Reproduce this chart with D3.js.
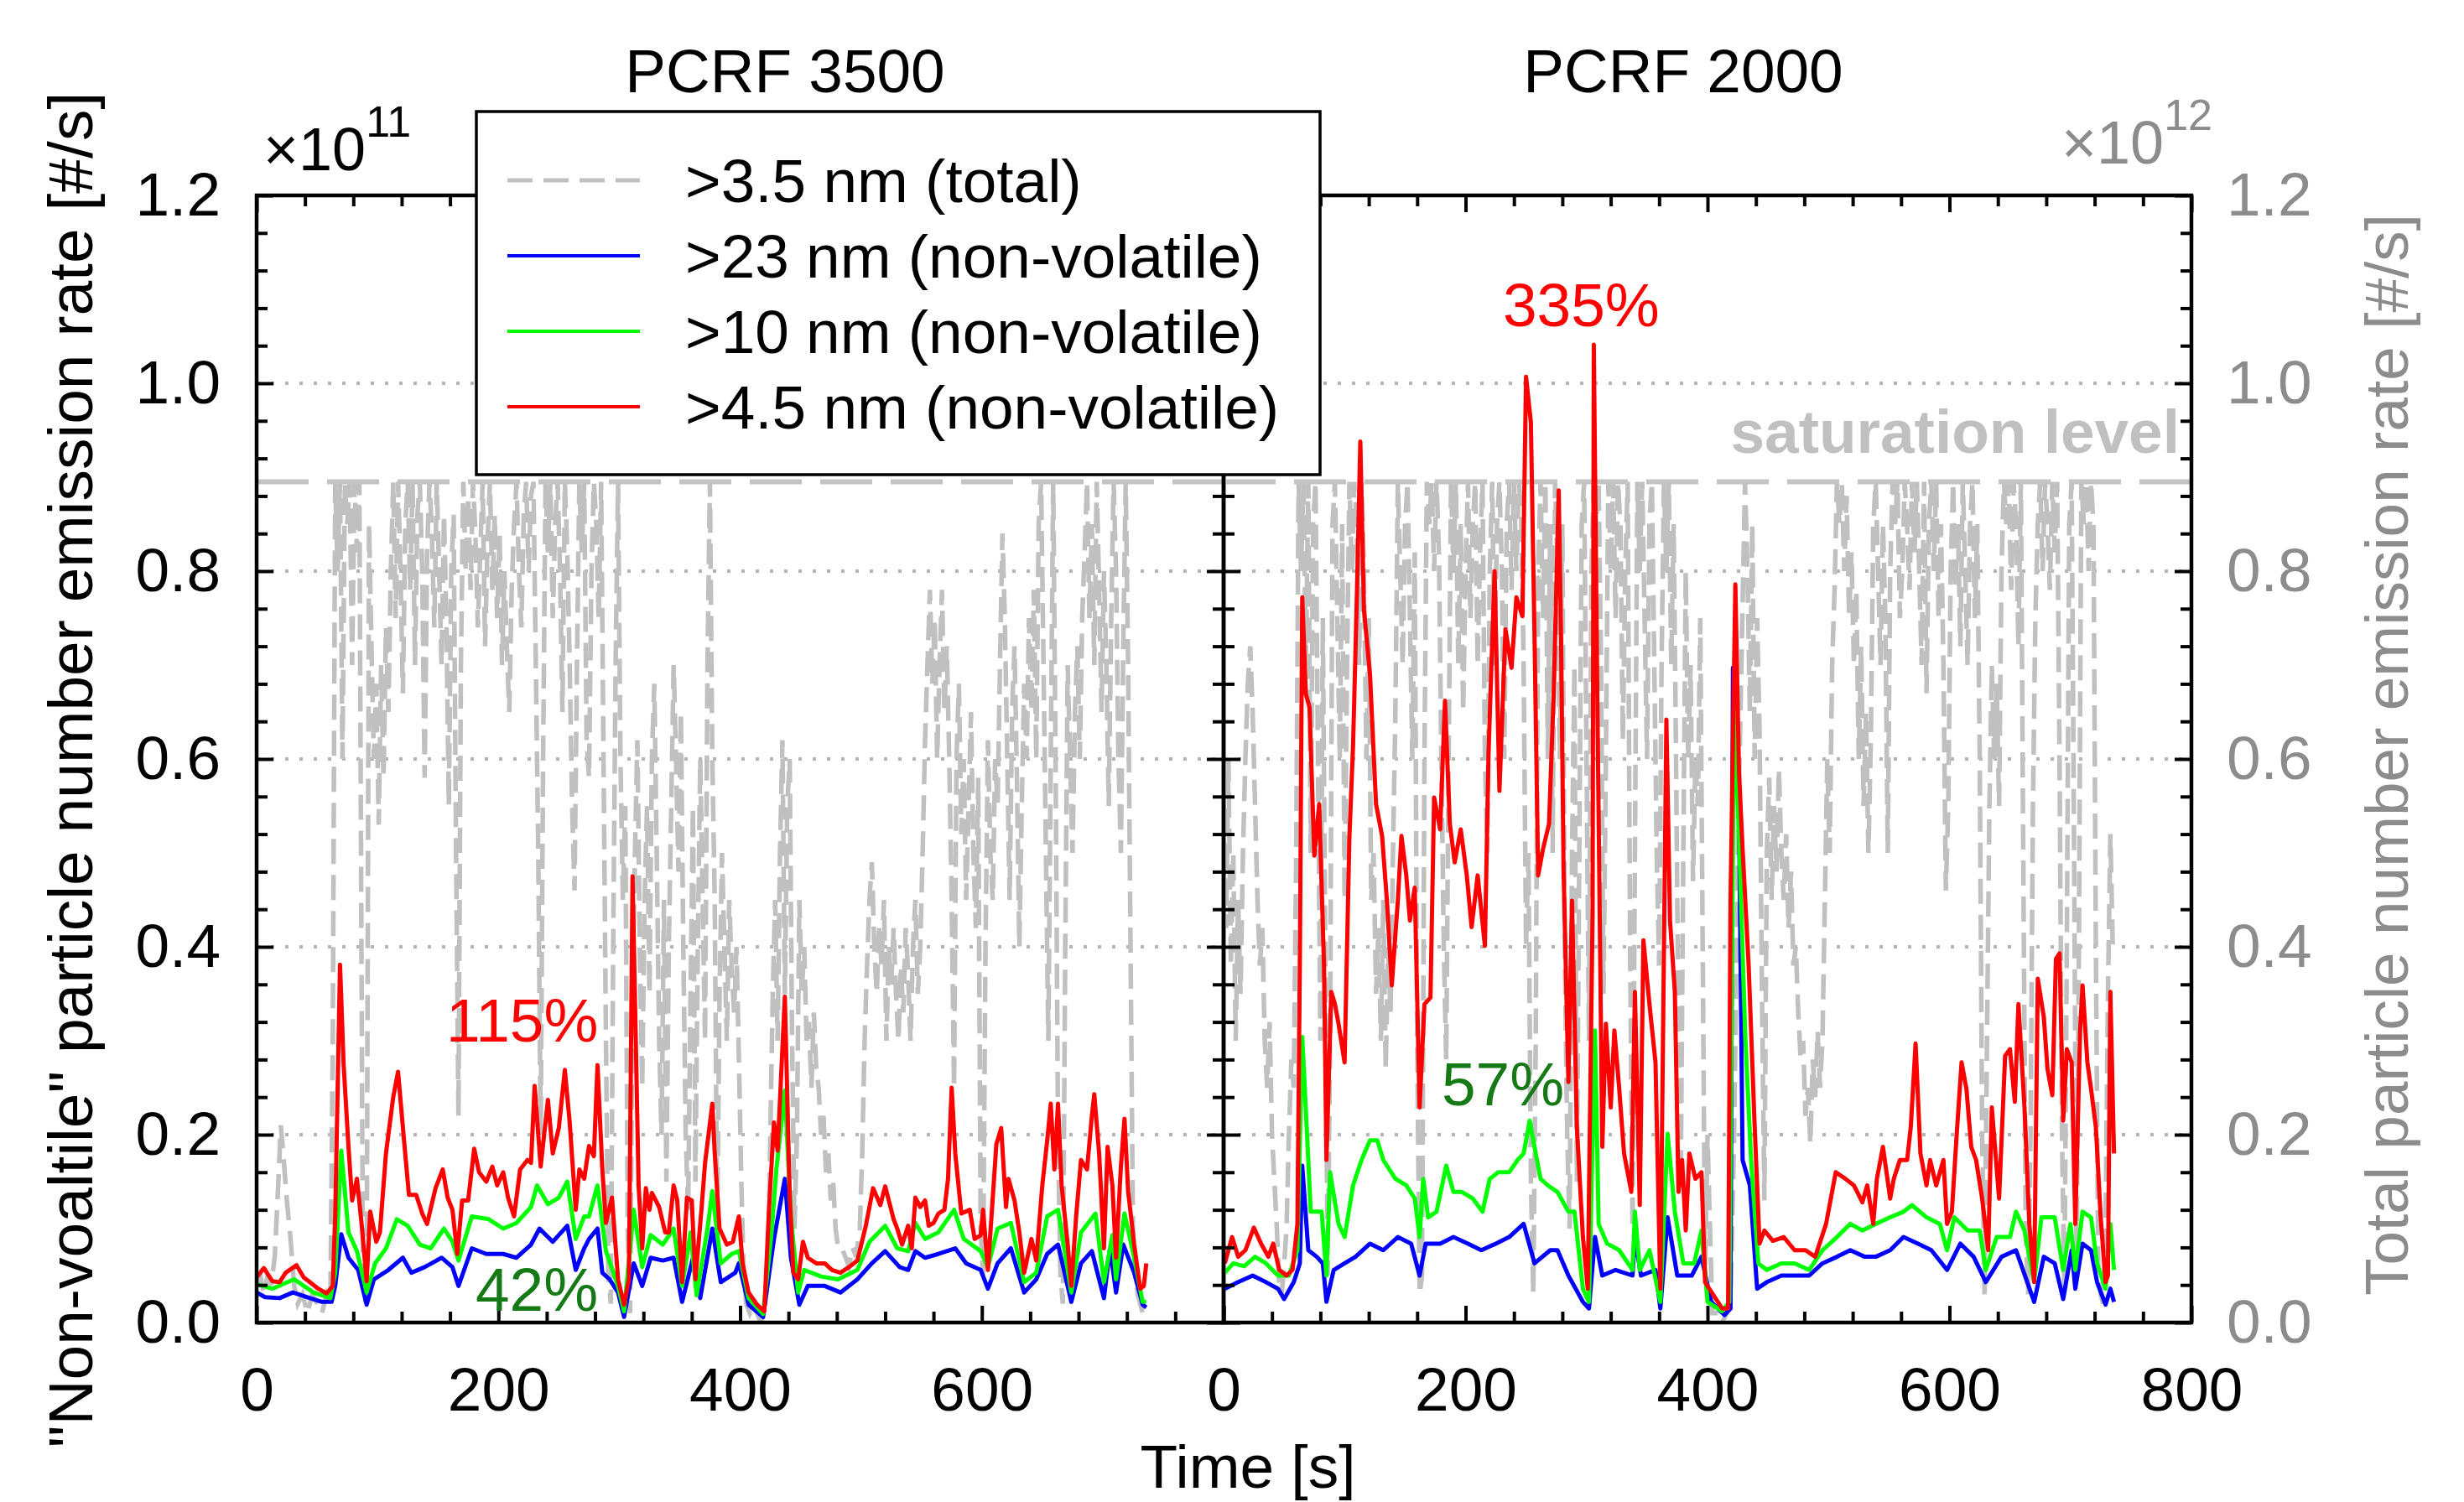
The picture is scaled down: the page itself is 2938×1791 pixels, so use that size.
<!DOCTYPE html>
<html>
<head>
<meta charset="utf-8">
<script src="https://cdn.jsdelivr.net/npm/d3@7"></script>
<style>
  body { margin: 0; background: #fff; }
  svg { display: block; font-family: "Liberation Sans", Arial, sans-serif; }
</style>
</head>
<body>
<div id="chart"></div>
<script>
// ---- data (time [s], rate) ; non-volatile in 1e11 #/s, total in 1e12 #/s ----
const timeTicks = [0, 200, 400, 600, 800];
const rateTicks = [0, 0.2, 0.4, 0.6, 0.8, 1.0, 1.2];
const gridValues = [0.2, 0.4, 0.6, 0.8, 1.0];
const saturationLevel = 0.895;
const panelTitles = ["PCRF 3500", "PCRF 2000"];
const seriesNames = [">3.5 nm (total)", ">23 nm (non-volatile)", ">10 nm (non-volatile)", ">4.5 nm (non-volatile)"];
const notes3500 = ["115%", "42%"];
const notes2000 = ["335%", "57%"];

const total3500 = [[0,0.04],[3,0.05],[6,0.03],[9,0.05],[12,0.04],[15,0.07],[18,0.15],[20,0.21],[22,0.18],[25,0.13],[28,0.09],[31,0.04],[34,0.02],[38,0.03],[42,0.01],[46,0.03],[50,0.02],[54,0.01],[58,0.03],[61,0.02],[63,0.3],[65,0.895],[67,0.8],[69,0.895],[71,0.6],[73,0.895],[75,0.85],[77,0.895],[79,0.7],[81,0.895],[83,0.82],[85,0.895],[88,0.03],[91,0.02],[93,0.85],[95,0.72],[97,0.6],[99,0.68],[101,0.53],[103,0.7],[105,0.58],[107,0.74],[109,0.65],[111,0.8],[113,0.895],[115,0.75],[117,0.895],[119,0.8],[121,0.67],[123,0.85],[125,0.895],[127,0.78],[129,0.895],[131,0.7],[133,0.86],[135,0.895],[137,0.8],[139,0.58],[141,0.82],[143,0.895],[145,0.84],[147,0.74],[149,0.895],[151,0.8],[153,0.7],[155,0.86],[157,0.75],[159,0.55],[161,0.8],[163,0.86],[165,0.5],[167,0.22],[169,0.7],[171,0.895],[173,0.8],[175,0.88],[177,0.78],[179,0.895],[181,0.84],[183,0.74],[185,0.82],[187,0.895],[189,0.72],[191,0.83],[193,0.895],[195,0.78],[197,0.86],[199,0.75],[201,0.84],[203,0.7],[205,0.8],[207,0.72],[209,0.65],[211,0.78],[213,0.85],[215,0.895],[217,0.8],[219,0.74],[221,0.86],[223,0.895],[225,0.8],[227,0.88],[229,0.895],[231,0.7],[233,0.5],[235,0.2],[237,0.6],[239,0.895],[241,0.82],[243,0.895],[245,0.75],[247,0.85],[249,0.895],[251,0.8],[253,0.65],[255,0.895],[257,0.82],[259,0.7],[261,0.55],[263,0.46],[265,0.7],[267,0.895],[269,0.82],[271,0.895],[273,0.62],[275,0.58],[277,0.8],[279,0.895],[281,0.85],[283,0.75],[285,0.895],[287,0.6],[289,0.3],[291,0.05],[293,0.02],[295,0.4],[297,0.7],[299,0.895],[301,0.6],[303,0.45],[305,0.55],[307,0.1],[309,0.01],[311,0.35],[313,0.5],[315,0.62],[317,0.4],[319,0.25],[321,0.45],[323,0.55],[325,0.35],[327,0.6],[329,0.68],[331,0.5],[333,0.3],[335,0.2],[337,0.45],[339,0.15],[341,0.4],[343,0.55],[345,0.7],[347,0.6],[349,0.48],[351,0.65],[353,0.4],[355,0.2],[357,0.12],[359,0.35],[361,0.55],[363,0.15],[365,0.4],[367,0.6],[369,0.45],[371,0.3],[373,0.7],[375,0.895],[377,0.6],[379,0.45],[381,0.1],[383,0.35],[385,0.5],[387,0.4],[389,0.3],[391,0.45],[393,0.38],[395,0.33],[397,0.4],[399,0.28],[401,0.15],[403,0.05],[405,0.02],[408,0.01],[411,0.02],[414,0.01],[417,0.0],[420,0.01],[423,0.05],[425,0.2],[427,0.35],[429,0.45],[431,0.3],[433,0.5],[435,0.62],[437,0.35],[439,0.55],[441,0.6],[443,0.3],[445,0.1],[447,0.2],[449,0.45],[451,0.35],[453,0.4],[455,0.3],[457,0.32],[459,0.25],[461,0.33],[463,0.27],[465,0.25],[467,0.2],[469,0.22],[471,0.16],[473,0.18],[475,0.13],[477,0.15],[479,0.1],[481,0.08],[484,0.08],[487,0.07],[490,0.06],[493,0.08],[496,0.07],[499,0.1],[501,0.18],[503,0.3],[505,0.38],[507,0.45],[509,0.49],[511,0.4],[513,0.35],[515,0.42],[517,0.38],[519,0.45],[521,0.3],[523,0.4],[525,0.36],[527,0.42],[529,0.35],[531,0.3],[533,0.38],[535,0.33],[537,0.42],[539,0.37],[541,0.3],[543,0.4],[545,0.45],[547,0.35],[549,0.4],[551,0.5],[553,0.62],[555,0.7],[557,0.78],[559,0.68],[561,0.75],[563,0.6],[565,0.7],[567,0.78],[569,0.65],[571,0.72],[573,0.6],[575,0.45],[577,0.25],[579,0.6],[581,0.68],[583,0.52],[585,0.6],[587,0.45],[589,0.55],[591,0.65],[593,0.5],[595,0.42],[597,0.58],[599,0.1],[601,0.05],[603,0.4],[605,0.62],[607,0.5],[609,0.45],[611,0.6],[613,0.55],[615,0.7],[617,0.84],[619,0.75],[621,0.6],[623,0.45],[625,0.65],[627,0.72],[629,0.58],[631,0.4],[633,0.55],[635,0.68],[637,0.6],[639,0.75],[641,0.65],[643,0.78],[645,0.6],[647,0.85],[649,0.895],[651,0.7],[653,0.5],[655,0.3],[657,0.6],[659,0.895],[661,0.6],[663,0.2],[665,0.05],[667,0.02],[669,0.4],[671,0.7],[673,0.6],[675,0.5],[677,0.65],[679,0.72],[681,0.6],[683,0.75],[685,0.82],[687,0.895],[689,0.75],[691,0.85],[693,0.7],[695,0.895],[697,0.78],[699,0.65],[701,0.8],[703,0.7],[705,0.55],[707,0.75],[709,0.895],[711,0.8],[713,0.6],[715,0.5],[717,0.72],[719,0.895],[721,0.7],[723,0.4],[725,0.1],[727,0.05],[729,0.03],[731,0.02],[733,0.01]];

const nv23_3500 = [[0,0.032],[7,0.027],[19,0.026],[30,0.032],[42,0.027],[54,0.022],[62,0.022],[65,0.039],[70,0.094],[76,0.069],[84,0.056],[91,0.019],[97,0.046],[109,0.056],[121,0.069],[128,0.053],[139,0.059],[153,0.069],[162,0.059],[167,0.039],[178,0.079],[190,0.073],[204,0.073],[215,0.069],[227,0.083],[234,0.1],[245,0.086],[257,0.103],[264,0.056],[271,0.079],[275,0.089],[282,0.1],[286,0.053],[292,0.046],[299,0.032],[304,0.006],[312,0.063],[319,0.039],[326,0.069],[336,0.066],[345,0.069],[352,0.022],[361,0.069],[367,0.026],[377,0.1],[384,0.043],[396,0.053],[399,0.063],[407,0.019],[419,0.006],[428,0.089],[437,0.153],[442,0.069],[449,0.019],[456,0.039],[470,0.039],[483,0.032],[497,0.046],[509,0.063],[520,0.076],[532,0.059],[539,0.056],[545,0.076],[553,0.069],[564,0.073],[578,0.079],[587,0.063],[599,0.056],[605,0.036],[613,0.063],[624,0.079],[635,0.032],[645,0.046],[654,0.073],[663,0.083],[674,0.022],[682,0.063],[691,0.076],[701,0.026],[706,0.079],[711,0.032],[717,0.083],[726,0.053],[733,0.019],[736,0.016]];

const nv10_3500 = [[0,0.041],[13,0.036],[31,0.046],[47,0.032],[61,0.026],[65,0.053],[70,0.183],[76,0.096],[83,0.076],[91,0.032],[98,0.063],[107,0.079],[116,0.11],[125,0.103],[135,0.083],[144,0.079],[155,0.1],[162,0.086],[167,0.066],[178,0.113],[192,0.11],[204,0.1],[215,0.106],[227,0.123],[232,0.146],[241,0.126],[250,0.133],[257,0.15],[264,0.089],[271,0.113],[275,0.113],[282,0.146],[289,0.076],[299,0.039],[304,0.012],[312,0.12],[319,0.059],[326,0.093],[336,0.083],[345,0.1],[352,0.039],[359,0.096],[364,0.029],[373,0.1],[377,0.14],[384,0.063],[393,0.073],[399,0.076],[407,0.026],[419,0.009],[426,0.096],[430,0.163],[437,0.247],[442,0.113],[448,0.032],[453,0.056],[467,0.049],[481,0.046],[497,0.056],[507,0.086],[520,0.103],[530,0.079],[539,0.076],[545,0.106],[553,0.089],[564,0.096],[577,0.12],[585,0.089],[599,0.076],[605,0.059],[613,0.1],[624,0.106],[635,0.043],[645,0.053],[654,0.113],[663,0.12],[674,0.032],[682,0.096],[694,0.116],[701,0.043],[708,0.093],[711,0.046],[718,0.116],[726,0.069],[733,0.022],[736,0.022]];

const nv45_3500 = [[0,0.048],[6,0.058],[13,0.044],[19,0.043],[24,0.053],[33,0.061],[39,0.048],[44,0.043],[51,0.036],[58,0.031],[63,0.039],[65,0.113],[69,0.381],[72,0.274],[76,0.187],[79,0.13],[83,0.153],[87,0.103],[91,0.044],[94,0.118],[99,0.086],[102,0.096],[107,0.18],[113,0.24],[117,0.267],[122,0.193],[126,0.136],[132,0.136],[137,0.116],[141,0.105],[148,0.143],[154,0.163],[158,0.133],[162,0.12],[166,0.073],[170,0.13],[175,0.13],[180,0.185],[184,0.16],[190,0.15],[195,0.166],[199,0.146],[204,0.16],[208,0.133],[213,0.113],[218,0.163],[224,0.173],[227,0.17],[230,0.252],[235,0.166],[241,0.237],[245,0.18],[250,0.207],[255,0.269],[259,0.213],[264,0.12],[267,0.163],[271,0.153],[275,0.188],[279,0.177],[282,0.274],[286,0.163],[289,0.106],[294,0.133],[299,0.046],[304,0.019],[308,0.046],[311,0.475],[314,0.28],[316,0.146],[319,0.079],[322,0.143],[325,0.12],[327,0.138],[333,0.123],[338,0.096],[341,0.096],[345,0.146],[348,0.13],[352,0.043],[356,0.133],[360,0.13],[363,0.046],[368,0.12],[371,0.17],[377,0.233],[379,0.18],[383,0.1],[389,0.083],[394,0.086],[399,0.113],[402,0.063],[407,0.032],[414,0.019],[420,0.012],[424,0.123],[428,0.213],[431,0.183],[437,0.347],[441,0.136],[444,0.053],[448,0.046],[452,0.086],[456,0.069],[463,0.063],[470,0.063],[476,0.056],[483,0.053],[490,0.059],[497,0.066],[504,0.103],[510,0.143],[516,0.125],[520,0.145],[527,0.11],[530,0.1],[534,0.083],[539,0.103],[542,0.079],[545,0.133],[549,0.123],[553,0.13],[556,0.103],[560,0.106],[564,0.116],[569,0.12],[572,0.153],[575,0.25],[578,0.18],[583,0.116],[590,0.12],[594,0.089],[599,0.093],[601,0.12],[605,0.056],[612,0.19],[616,0.207],[620,0.123],[622,0.153],[627,0.13],[631,0.096],[635,0.053],[641,0.089],[645,0.066],[650,0.146],[654,0.193],[657,0.233],[660,0.163],[663,0.233],[666,0.146],[671,0.083],[674,0.039],[678,0.113],[682,0.173],[687,0.163],[691,0.22],[693,0.243],[697,0.18],[701,0.079],[704,0.187],[708,0.146],[711,0.069],[715,0.166],[718,0.217],[721,0.14],[726,0.083],[731,0.036],[734,0.039],[736,0.063]];

const total2000 = [[0,0.55],[2,0.42],[4,0.6],[6,0.38],[8,0.5],[10,0.3],[12,0.45],[14,0.35],[16,0.5],[18,0.6],[20,0.68],[22,0.72],[24,0.65],[26,0.55],[28,0.45],[30,0.38],[32,0.42],[34,0.3],[36,0.25],[38,0.32],[40,0.2],[42,0.15],[44,0.1],[46,0.04],[48,0.03],[50,0.06],[52,0.1],[54,0.2],[56,0.28],[58,0.25],[60,0.5],[62,0.895],[64,0.8],[66,0.895],[68,0.7],[70,0.895],[72,0.5],[74,0.85],[76,0.895],[78,0.6],[80,0.3],[82,0.75],[84,0.4],[86,0.05],[88,0.3],[90,0.85],[92,0.895],[94,0.75],[96,0.6],[98,0.85],[100,0.45],[102,0.7],[104,0.895],[106,0.8],[108,0.895],[110,0.85],[112,0.7],[114,0.895],[116,0.8],[118,0.6],[120,0.75],[122,0.45],[124,0.5],[126,0.35],[128,0.42],[130,0.3],[132,0.45],[134,0.27],[136,0.4],[138,0.33],[140,0.5],[142,0.65],[144,0.895],[146,0.8],[148,0.7],[150,0.85],[152,0.895],[154,0.75],[156,0.6],[158,0.82],[160,0.3],[162,0.03],[164,0.05],[166,0.6],[168,0.895],[170,0.85],[172,0.895],[174,0.8],[176,0.895],[178,0.82],[180,0.6],[182,0.4],[184,0.28],[186,0.6],[188,0.895],[190,0.8],[192,0.895],[194,0.7],[196,0.85],[198,0.65],[200,0.8],[202,0.895],[204,0.75],[206,0.85],[208,0.895],[210,0.7],[212,0.82],[214,0.895],[216,0.6],[218,0.5],[220,0.8],[222,0.895],[224,0.7],[226,0.85],[228,0.895],[230,0.8],[232,0.6],[234,0.85],[236,0.895],[238,0.78],[240,0.895],[242,0.8],[244,0.895],[246,0.86],[248,0.7],[250,0.4],[252,0.5],[254,0.15],[256,0.03],[258,0.3],[260,0.8],[262,0.895],[264,0.75],[266,0.895],[268,0.6],[270,0.85],[272,0.5],[274,0.895],[276,0.8],[278,0.6],[280,0.85],[282,0.4],[284,0.2],[286,0.1],[288,0.5],[290,0.7],[292,0.15],[294,0.5],[296,0.85],[298,0.895],[300,0.6],[302,0.3],[304,0.8],[306,0.895],[308,0.85],[310,0.895],[312,0.7],[314,0.35],[316,0.6],[318,0.895],[320,0.8],[322,0.895],[324,0.75],[326,0.895],[328,0.85],[330,0.62],[332,0.8],[334,0.895],[336,0.4],[338,0.1],[340,0.5],[342,0.895],[344,0.8],[346,0.895],[348,0.75],[350,0.6],[352,0.85],[354,0.895],[356,0.7],[358,0.5],[360,0.38],[362,0.7],[364,0.895],[366,0.8],[368,0.895],[370,0.7],[372,0.85],[374,0.6],[376,0.3],[378,0.17],[380,0.5],[382,0.8],[384,0.6],[386,0.7],[388,0.47],[390,0.6],[392,0.55],[394,0.75],[396,0.4],[398,0.05],[400,0.2],[402,0.1],[404,0.01],[408,0.01],[412,0.0],[416,0.01],[419,0.02],[422,0.2],[425,0.5],[428,0.7],[431,0.895],[433,0.8],[435,0.65],[437,0.85],[439,0.6],[441,0.75],[443,0.63],[445,0.35],[447,0.13],[449,0.5],[451,0.58],[453,0.45],[455,0.55],[457,0.48],[459,0.59],[461,0.5],[463,0.45],[465,0.52],[467,0.42],[469,0.48],[471,0.38],[473,0.4],[475,0.33],[477,0.28],[479,0.3],[481,0.22],[483,0.25],[485,0.19],[487,0.28],[489,0.24],[491,0.31],[493,0.25],[495,0.3],[497,0.45],[499,0.6],[501,0.5],[503,0.7],[505,0.78],[507,0.895],[509,0.85],[511,0.895],[513,0.8],[515,0.88],[517,0.75],[519,0.82],[521,0.7],[523,0.78],[525,0.6],[527,0.72],[529,0.55],[531,0.65],[533,0.5],[535,0.62],[537,0.85],[539,0.895],[541,0.8],[543,0.7],[545,0.85],[547,0.75],[549,0.5],[551,0.8],[553,0.895],[555,0.85],[557,0.895],[559,0.75],[561,0.8],[563,0.895],[565,0.85],[567,0.78],[569,0.895],[571,0.82],[573,0.895],[575,0.8],[577,0.7],[579,0.895],[581,0.67],[583,0.85],[585,0.895],[587,0.8],[589,0.895],[591,0.75],[593,0.85],[595,0.7],[597,0.46],[599,0.55],[601,0.8],[603,0.895],[605,0.78],[607,0.85],[609,0.72],[611,0.895],[613,0.8],[615,0.7],[617,0.85],[619,0.895],[621,0.75],[623,0.85],[625,0.6],[627,0.2],[629,0.03],[631,0.3],[633,0.55],[635,0.7],[637,0.6],[639,0.68],[641,0.55],[643,0.8],[645,0.895],[647,0.85],[649,0.895],[651,0.78],[653,0.895],[655,0.85],[657,0.72],[659,0.895],[661,0.5],[663,0.1],[665,0.03],[667,0.2],[669,0.55],[671,0.75],[673,0.85],[675,0.895],[677,0.8],[679,0.895],[681,0.85],[683,0.78],[685,0.895],[687,0.82],[689,0.895],[691,0.6],[693,0.2],[695,0.03],[697,0.4],[699,0.85],[701,0.895],[703,0.5],[705,0.05],[707,0.4],[709,0.895],[711,0.85],[713,0.895],[715,0.8],[717,0.895],[719,0.85],[721,0.4],[723,0.05],[725,0.03],[727,0.02],[729,0.1],[731,0.35],[733,0.52],[735,0.4]];

const nv23_2000 = [[1,0.036],[12,0.043],[24,0.05],[35,0.043],[45,0.036],[50,0.025],[58,0.043],[63,0.063],[65,0.167],[70,0.077],[77,0.07],[82,0.063],[85,0.022],[91,0.056],[100,0.063],[109,0.07],[121,0.084],[132,0.077],[144,0.091],[155,0.084],[162,0.05],[167,0.084],[179,0.084],[190,0.091],[202,0.084],[213,0.077],[225,0.084],[236,0.091],[248,0.105],[257,0.063],[270,0.077],[276,0.077],[285,0.05],[297,0.022],[302,0.015],[307,0.091],[313,0.05],[324,0.056],[338,0.05],[340,0.091],[345,0.05],[357,0.056],[361,0.015],[367,0.112],[375,0.05],[387,0.05],[395,0.07],[403,0.022],[414,0.008],[419,0.015],[421,0.697],[426,0.545],[429,0.173],[435,0.146],[441,0.036],[449,0.043],[461,0.05],[472,0.05],[484,0.05],[495,0.063],[507,0.07],[518,0.077],[530,0.07],[539,0.07],[551,0.077],[562,0.091],[574,0.084],[585,0.077],[598,0.056],[609,0.084],[620,0.07],[630,0.043],[643,0.07],[655,0.077],[670,0.022],[678,0.07],[687,0.063],[694,0.025],[701,0.077],[704,0.036],[710,0.084],[717,0.077],[722,0.043],[729,0.019],[733,0.036],[736,0.022]];

const nv10_2000 = [[1,0.053],[8,0.063],[17,0.06],[26,0.07],[35,0.063],[45,0.05],[54,0.05],[61,0.077],[65,0.304],[70,0.173],[72,0.118],[81,0.118],[85,0.05],[88,0.16],[95,0.105],[100,0.091],[107,0.146],[114,0.173],[121,0.194],[127,0.194],[132,0.173],[142,0.153],[151,0.146],[158,0.132],[162,0.091],[165,0.153],[169,0.112],[176,0.118],[184,0.167],[190,0.139],[197,0.139],[206,0.132],[214,0.118],[220,0.153],[227,0.16],[236,0.16],[243,0.173],[248,0.18],[253,0.215],[257,0.187],[262,0.153],[268,0.146],[276,0.139],[285,0.118],[290,0.118],[297,0.036],[302,0.022],[307,0.311],[310,0.105],[317,0.084],[327,0.077],[338,0.056],[340,0.118],[344,0.056],[352,0.077],[361,0.022],[367,0.201],[373,0.118],[380,0.063],[389,0.063],[395,0.098],[400,0.022],[412,0.012],[418,0.022],[422,0.669],[426,0.518],[431,0.311],[436,0.173],[442,0.063],[449,0.056],[461,0.063],[472,0.063],[484,0.056],[495,0.077],[507,0.091],[518,0.105],[528,0.098],[539,0.105],[551,0.112],[562,0.118],[569,0.125],[581,0.112],[592,0.105],[598,0.077],[604,0.112],[615,0.098],[625,0.098],[630,0.056],[639,0.091],[650,0.091],[655,0.118],[662,0.098],[670,0.043],[676,0.112],[687,0.112],[694,0.056],[700,0.105],[704,0.056],[710,0.118],[717,0.112],[722,0.063],[729,0.036],[733,0.105],[736,0.056]];

const nv45_2000 = [[1,0.063],[7,0.091],[12,0.07],[18,0.077],[25,0.101],[31,0.084],[37,0.07],[41,0.084],[46,0.056],[52,0.05],[57,0.056],[61,0.105],[63,0.38],[65,0.772],[68,0.669],[71,0.655],[75,0.497],[79,0.552],[83,0.38],[85,0.173],[89,0.352],[92,0.339],[95,0.318],[100,0.277],[104,0.518],[107,0.614],[110,0.766],[113,0.938],[116,0.759],[121,0.69],[126,0.552],[131,0.518],[135,0.449],[139,0.359],[144,0.449],[147,0.518],[151,0.476],[154,0.428],[158,0.463],[162,0.229],[166,0.339],[171,0.346],[174,0.559],[179,0.525],[183,0.662],[187,0.531],[191,0.49],[196,0.525],[201,0.476],[205,0.421],[210,0.476],[216,0.401],[219,0.607],[224,0.8],[228,0.566],[233,0.738],[238,0.697],[242,0.772],[247,0.752],[250,1.007],[254,0.958],[257,0.731],[260,0.476],[264,0.504],[269,0.531],[273,0.676],[277,0.886],[279,0.724],[281,0.483],[285,0.256],[288,0.449],[292,0.208],[297,0.091],[301,0.036],[305,0.435],[306,1.041],[309,0.655],[313,0.187],[316,0.318],[320,0.229],[323,0.311],[327,0.249],[331,0.18],[337,0.139],[340,0.352],[344,0.125],[347,0.407],[352,0.339],[357,0.277],[361,0.036],[366,0.642],[369,0.428],[373,0.352],[376,0.139],[379,0.173],[382,0.098],[385,0.18],[390,0.153],[395,0.16],[398,0.043],[405,0.029],[412,0.015],[417,0.015],[419,0.449],[423,0.786],[426,0.587],[429,0.504],[434,0.38],[439,0.208],[443,0.084],[447,0.098],[454,0.087],[463,0.091],[472,0.077],[481,0.077],[489,0.07],[498,0.105],[506,0.16],[514,0.153],[521,0.146],[528,0.128],[532,0.146],[537,0.105],[540,0.153],[545,0.187],[551,0.132],[554,0.153],[559,0.173],[565,0.173],[568,0.208],[572,0.297],[576,0.18],[581,0.146],[584,0.173],[589,0.146],[595,0.173],[598,0.105],[602,0.118],[606,0.201],[610,0.277],[614,0.249],[618,0.187],[622,0.173],[627,0.132],[632,0.077],[635,0.229],[641,0.132],[646,0.284],[650,0.291],[654,0.235],[657,0.339],[662,0.229],[666,0.105],[670,0.043],[673,0.366],[678,0.325],[681,0.27],[685,0.242],[688,0.387],[691,0.393],[694,0.215],[697,0.291],[701,0.277],[704,0.105],[708,0.311],[710,0.359],[714,0.277],[717,0.249],[721,0.208],[725,0.112],[729,0.043],[731,0.05],[733,0.352],[736,0.18]];

// ---- layout ----
const W = 2938, H = 1791;
const plotTop = 233, plotBottom = 1577;
const FONT = 73;
const colors = { total: "#c0c0c0", nv23: "#0000ff", nv10: "#00ff00", nv45: "#ff0000",
                 axisGray: "#8c8c8c", note: "#157a15" };

const svg = d3.select("#chart").append("svg")
    .attr("width", W).attr("height", H)
    .attr("viewBox", `0 0 ${W} ${H}`);

const y = d3.scaleLinear().domain([0, 1.2]).range([plotBottom, plotTop]);

const panels = [
    { title: panelTitles[0], x: d3.scaleLinear().domain([0, 800]).range([306, 1459]),
      series: [total3500, nv23_3500, nv10_3500, nv45_3500], labels: [0, 200, 400, 600] },
    { title: panelTitles[1], x: d3.scaleLinear().domain([0, 800]).range([1459, 2613]),
      series: [total2000, nv23_2000, nv10_2000, nv45_2000], labels: [0, 200, 400, 600, 800] }
];

const minorX = d3.range(0, 801, 40).filter(d => !timeTicks.includes(d));
const minorY = d3.range(0, 31).map(d => d * 0.04).filter(d => !rateTicks.some(r => Math.abs(r - d) < 1e-6));

function styleAxis(g, color) {
    g.attr("font-size", null).attr("font-family", null);
    g.select(".domain").remove();
    g.selectAll(".tick line").attr("stroke", "#000").attr("stroke-width", 4);
    g.selectAll(".tick text").attr("font-size", FONT).attr("fill", color || "#000");
}

panels.forEach((p, i) => {
    const x = p.x;
    const [x0, x1] = x.range();

    svg.append("clipPath").attr("id", "clip" + i)
        .append("rect").attr("x", x0).attr("y", plotTop).attr("width", x1 - x0).attr("height", plotBottom - plotTop);

    // dotted grid
    svg.append("g").selectAll("line").data(gridValues).enter().append("line")
        .attr("x1", x0).attr("x2", x1)
        .attr("y1", d => y(d)).attr("y2", d => y(d))
        .attr("stroke", "#b4b4b4").attr("stroke-width", 4)
        .attr("stroke-dasharray", "4,13");

    const line = d3.line().x(d => x(d[0])).y(d => y(d[1]));
    const plot = svg.append("g").attr("clip-path", `url(#clip${i})`);

    plot.append("path").datum(p.series[0])
        .attr("fill", "none").attr("stroke", colors.total).attr("stroke-width", 5.5)
        .attr("stroke-dasharray", "30,13").attr("d", line);

    // saturation level
    plot.append("line")
        .attr("x1", x0).attr("x2", x1)
        .attr("y1", y(saturationLevel)).attr("y2", y(saturationLevel))
        .attr("stroke", "#c4c4c4").attr("stroke-width", 6)
        .attr("stroke-dasharray", "62,22");

    if (i === 1) {
        svg.append("text").attr("x", 2599).attr("y", 540)
            .attr("text-anchor", "end").attr("font-size", FONT).attr("font-weight", "bold")
            .attr("fill", "#c0c0c0").text("saturation level");
    }

    [[p.series[1], colors.nv23], [p.series[2], colors.nv10], [p.series[3], colors.nv45]].forEach(([data, c]) => {
        plot.append("path").datum(data)
            .attr("fill", "none").attr("stroke", c).attr("stroke-width", 5)
            .attr("stroke-linejoin", "round").attr("d", line);
    });

    // axes with inward ticks
    const gb = svg.append("g").attr("transform", `translate(0,${plotBottom})`)
        .call(d3.axisBottom(x).tickValues(timeTicks).tickSize(-20).tickSizeOuter(0).tickPadding(53)
            .tickFormat(d => p.labels.includes(d) ? d : ""));
    styleAxis(gb);
    const gbm = svg.append("g").attr("transform", `translate(0,${plotBottom})`)
        .call(d3.axisBottom(x).tickValues(minorX).tickSize(-13).tickFormat(""));
    styleAxis(gbm);
    const gt = svg.append("g").attr("transform", `translate(0,${plotTop})`)
        .call(d3.axisTop(x).tickValues(timeTicks).tickSize(-20).tickFormat(""));
    styleAxis(gt);
    const gtm = svg.append("g").attr("transform", `translate(0,${plotTop})`)
        .call(d3.axisTop(x).tickValues(minorX).tickSize(-13).tickFormat(""));
    styleAxis(gtm);

    const gl = svg.append("g").attr("transform", `translate(${x0},0)`)
        .call(d3.axisLeft(y).tickValues(rateTicks).tickSize(-20).tickPadding(43)
            .tickFormat(i === 0 ? d3.format(".1f") : () => ""));
    styleAxis(gl);
    const glm = svg.append("g").attr("transform", `translate(${x0},0)`)
        .call(d3.axisLeft(y).tickValues(minorY).tickSize(-13).tickFormat(""));
    styleAxis(glm);
    const gr = svg.append("g").attr("transform", `translate(${x1},0)`)
        .call(d3.axisRight(y).tickValues(rateTicks).tickSize(-20).tickPadding(42)
            .tickFormat(i === 1 ? d3.format(".1f") : () => ""));
    styleAxis(gr, colors.axisGray);
    const grm = svg.append("g").attr("transform", `translate(${x1},0)`)
        .call(d3.axisRight(y).tickValues(minorY).tickSize(-13).tickFormat(""));
    styleAxis(grm);

    svg.append("rect").attr("x", x0).attr("y", plotTop)
        .attr("width", x1 - x0).attr("height", plotBottom - plotTop)
        .attr("fill", "none").attr("stroke", "#000").attr("stroke-width", 4.5);

    svg.append("text").attr("x", i === 0 ? 936 : 2007).attr("y", 110)
        .attr("text-anchor", "middle").attr("font-size", FONT).text(p.title);
});

// annotations
svg.append("text").attr("x", 532).attr("y", 1242).attr("font-size", FONT).attr("fill", "#ff0000").text(notes3500[0]);
svg.append("text").attr("x", 567).attr("y", 1563).attr("font-size", FONT).attr("fill", colors.note).text(notes3500[1]);
svg.append("text").attr("x", 1792).attr("y", 389).attr("font-size", FONT).attr("fill", "#ff0000").text(notes2000[0]);
svg.append("text").attr("x", 1719).attr("y", 1318).attr("font-size", FONT).attr("fill", colors.note).text(notes2000[1]);

// exponents
const e1 = svg.append("text").attr("x", 314).attr("y", 203).attr("font-size", 72);
e1.append("tspan").text("×10");
e1.append("tspan").attr("font-size", 52).attr("dy", -40).text("11");
const e2 = svg.append("text").attr("x", 2458).attr("y", 195).attr("font-size", 72).attr("fill", colors.axisGray);
e2.append("tspan").text("×10");
e2.append("tspan").attr("font-size", 52).attr("dy", -40).text("12");

// axis titles
svg.append("text").attr("x", 1488).attr("y", 1774).attr("text-anchor", "middle")
    .attr("font-size", FONT).text("Time [s]");
svg.append("text").attr("transform", "translate(110,918) rotate(-90)")
    .attr("text-anchor", "middle").attr("font-size", 75)
    .text("\"Non-voaltile\" particle number emission rate [#/s]");
svg.append("text").attr("transform", "translate(2871,900) rotate(-90)")
    .attr("text-anchor", "middle").attr("font-size", 73).attr("fill", colors.axisGray)
    .text("Total particle number emission rate [#/s]");

// legend
const legend = svg.append("g");
legend.append("rect").attr("x", 568).attr("y", 133).attr("width", 1006).attr("height", 433)
    .attr("fill", "#fff").attr("stroke", "#000").attr("stroke-width", 3.5);
const legendStyles = [
    { c: colors.total, dash: "30,13", w: 5 },
    { c: colors.nv23, dash: null, w: 4 },
    { c: colors.nv10, dash: null, w: 4 },
    { c: colors.nv45, dash: null, w: 4 }
];
seriesNames.forEach((name, k) => {
    const yy = 215 + k * 90;
    legend.append("line").attr("x1", 605).attr("x2", 763).attr("y1", yy).attr("y2", yy)
        .attr("stroke", legendStyles[k].c).attr("stroke-width", legendStyles[k].w)
        .attr("stroke-dasharray", legendStyles[k].dash);
    legend.append("text").attr("x", 817).attr("y", yy + 26).attr("font-size", FONT).text(name);
});
</script>
</body>
</html>
